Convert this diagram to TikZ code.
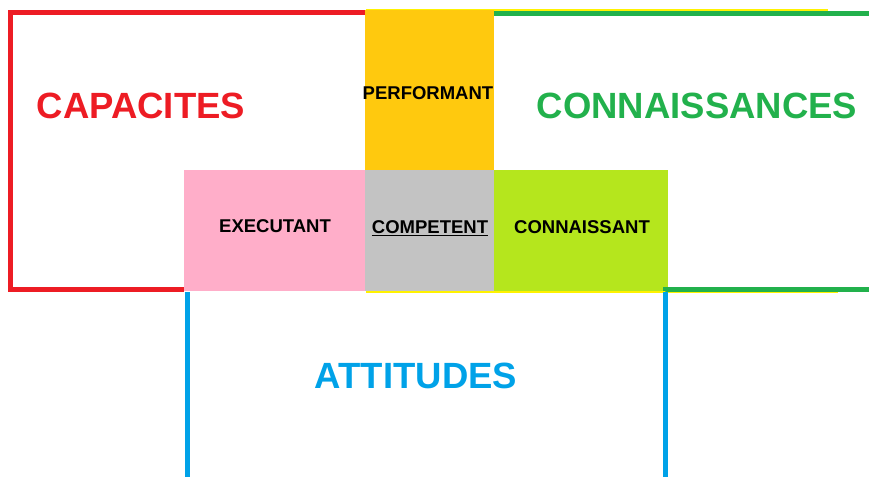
\documentclass[tikz,border=0pt]{standalone}
\usepackage{fontspec}
\setmainfont{Liberation Sans}
\definecolor{cred}{HTML}{ED1C24}
\definecolor{cgreen}{HTML}{22B14C}
\definecolor{cblue}{HTML}{00A2E8}
\definecolor{corange}{HTML}{FFC90E}
\definecolor{cpink}{HTML}{FFAEC9}
\definecolor{cgray}{HTML}{C3C3C3}
\definecolor{clime}{HTML}{B5E61D}
\definecolor{cyel}{HTML}{FFF200}
\begin{document}
\begin{tikzpicture}[x=1pt,y=-1pt,
  frame/.style={line width=5pt},
  big/.style={font=\fontsize{36.5}{36.5}\selectfont\bfseries},
  small/.style={font=\fontsize{18.5}{18.5}\selectfont\bfseries, text=black}]
\useasboundingbox (0,0) rectangle (869,477);
% thin yellow outline
\draw[cyel, line width=2pt] (366,9.5) -- (828,9.5);
\draw[cyel, line width=2pt] (366,292) -- (838,292);
% cells
\fill[corange] (365,10) rectangle (494,170);
\fill[cpink] (184,170) rectangle (365,291);
\fill[cgray] (365,170) rectangle (494,291);
\fill[clime] (494,170) rectangle (668,291);
% frames
\draw[frame, cred] (365,12.5) -- (10.5,12.5) -- (10.5,289) -- (184,289);
\draw[frame, cgreen] (494,13.5) -- (869,13.5);
\draw[frame, cgreen] (869,289) -- (665,289) -- (665,291);
\draw[frame, cblue] (187.5,292) -- (187.5,477);
\draw[frame, cblue] (665,292) -- (665,477);
% texts
\node[big, text=cred] (cap) at (141,106) {CAPACITES};
\node[big, text=cgreen] (con) at (697,106) {CONNAISSANCES};
\node[big, text=cblue] (att) at (416,376) {ATTITUDES};
\node[small] (perf) at (428,93) {PERFORMANT};
\node[small] (exe) at (275,226) {EXECUTANT};
\node[small] (comp) at (430,228) {\underline{COMPETENT}};
\node[small] (conn) at (582,227) {CONNAISSANT};
\end{tikzpicture}
\end{document}
